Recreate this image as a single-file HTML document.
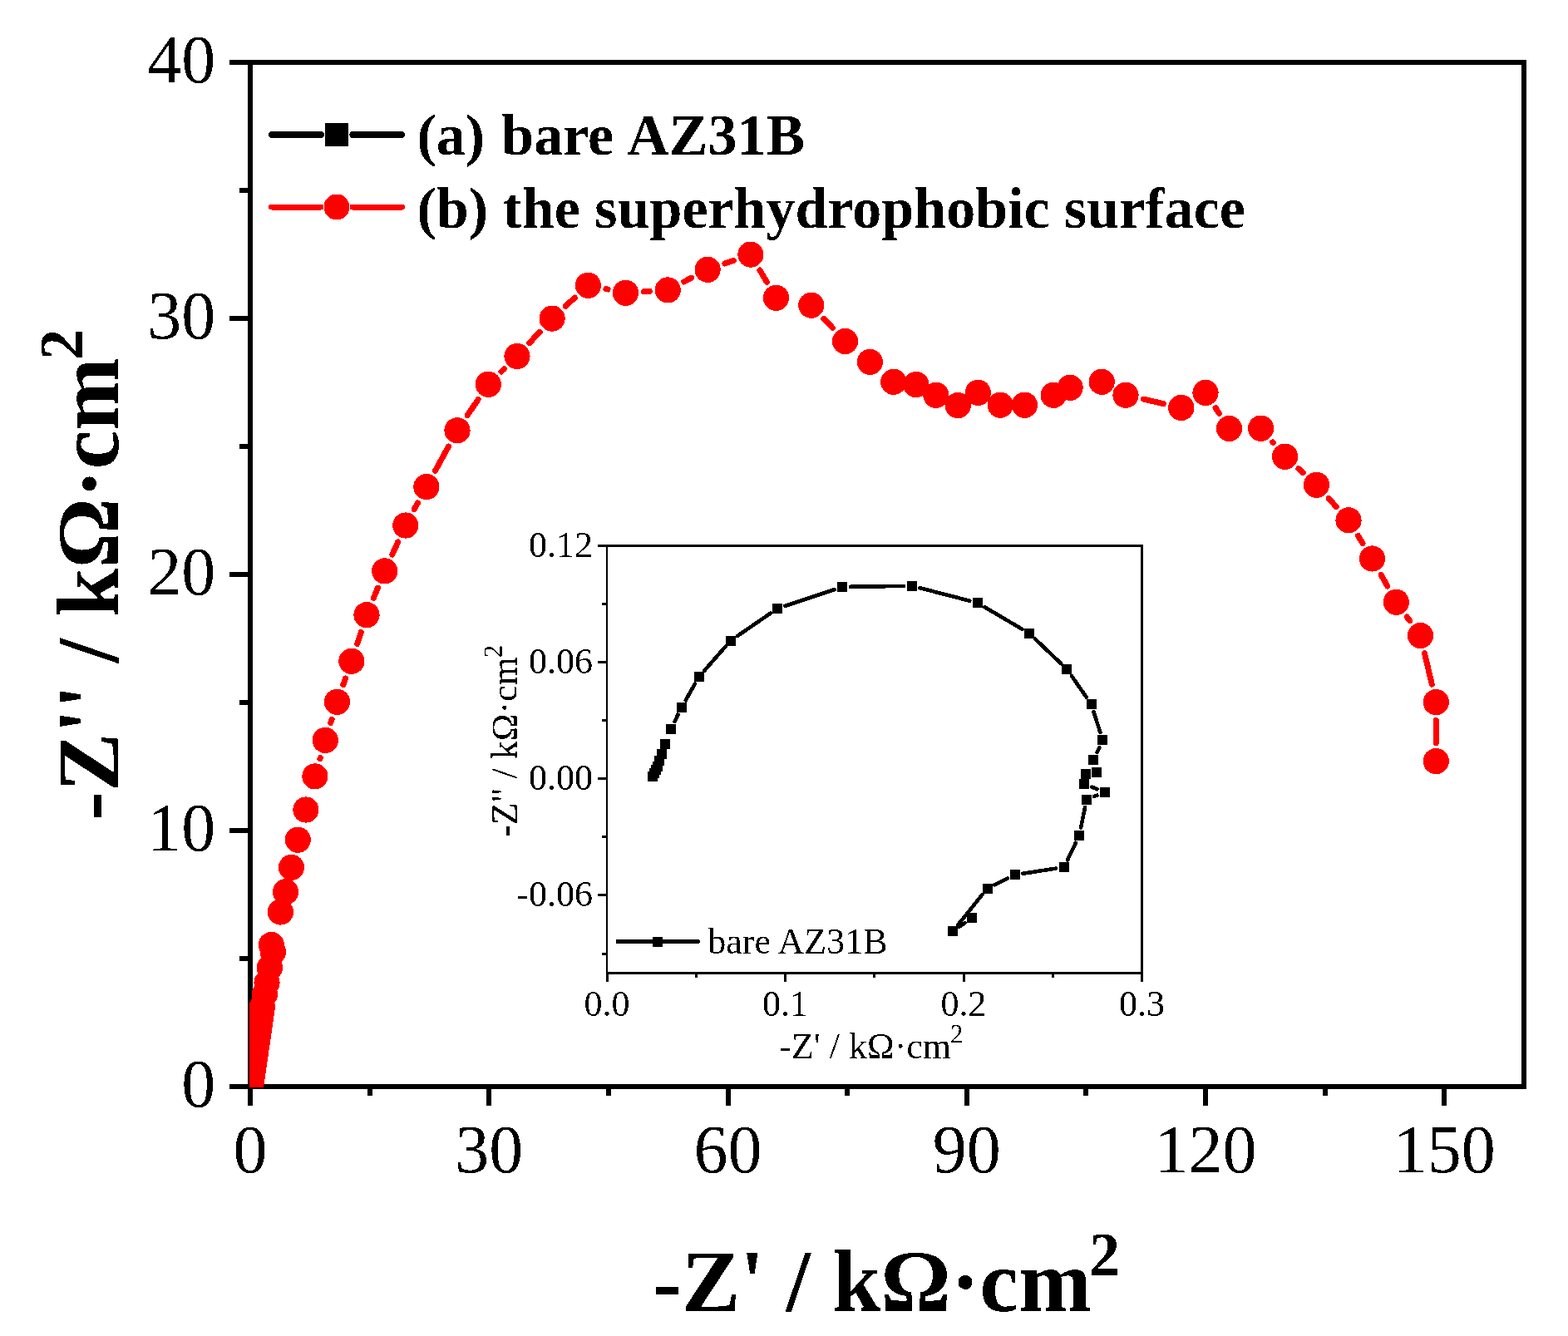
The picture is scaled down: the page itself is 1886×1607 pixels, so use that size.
<!DOCTYPE html><html><head><meta charset="utf-8"><style>html,body{margin:0;padding:0;background:#fff;}svg{display:block;}</style></head><body>
<svg width="1886" height="1607" viewBox="0 0 1886 1607" shape-rendering="crispEdges">
<style>text{filter:url(#bin);}</style>
<rect width="1886" height="1607" fill="#fff"/>
<defs><filter id="bin" x="-5%" y="-20%" width="110%" height="140%" color-interpolation-filters="sRGB"><feComponentTransfer><feFuncA type="discrete" tableValues="0 1"/></feComponentTransfer></filter><clipPath id="pc"><rect x="300" y="75" width="1533" height="1233"/></clipPath><clipPath id="ic"><rect x="730" y="656" width="644" height="514"/></clipPath></defs>
<rect x="301" y="75" width="1532" height="1232" fill="none" stroke="#000" stroke-width="6"/>
<path d="M276 1307.0H301 M276 999.0H301 M276 691.0H301 M276 383.0H301 M276 75.0H301 M288 1153.0H301 M288 845.0H301 M288 537.0H301 M288 229.0H301 M301.0 1307V1330 M588.2 1307V1330 M875.5 1307V1330 M1162.8 1307V1330 M1450.0 1307V1330 M1737.2 1307V1330 M444.6 1307V1318 M731.9 1307V1318 M1019.1 1307V1318 M1306.4 1307V1318 M1593.6 1307V1318" stroke="#000" stroke-width="6" fill="none"/>
<g clip-path="url(#pc)"><path d="M384.9 912.8L385.3 911.5 M397.7 869.5L399.1 865.2 M412.8 823.7L415.6 815.9 M429.7 774.5L434.2 760.5 M449.3 719.4L454.4 707.2 M471.8 667.0L478.7 651.9 M498.2 612.7L502.5 604.9 M523.4 566.4L539.5 537.0 M562.2 499.6L575.1 480.5 M603.0 447.0L606.3 443.8 M636.9 412.4L649.2 399.2 M680.2 368.3L691.3 358.1 M728.9 347.6L731.0 348.0 M774.4 350.8L781.3 350.4 M822.7 338.9L831.6 334.3 M871.8 317.0L882.2 313.4 M914.0 325.0L922.4 339.4 M990.8 383.2L1001.5 394.5 M1375.4 480.1L1399.4 485.6 M1462.1 490.7L1466.4 497.2 M1530.8 531.9L1531.4 532.5 M1561.9 563.8L1567.2 568.7 M1598.2 599.5L1607.3 609.6 M1633.5 644.4L1639.0 653.4 M1661.1 691.2L1668.8 705.1 M1692.2 742.0L1695.7 746.8 M1713.5 785.8L1722.3 823.3 M1727.3 866.5L1727.3 893.7" stroke="#f00" stroke-width="7" stroke-linecap="round" fill="none"/>
<g fill="#f00"><circle cx="300.8" cy="1312.0" r="15.6"/><circle cx="301.2" cy="1308.9" r="15.6"/><circle cx="301.7" cy="1305.9" r="15.6"/><circle cx="302.1" cy="1302.8" r="15.6"/><circle cx="302.6" cy="1299.8" r="15.6"/><circle cx="303.0" cy="1296.7" r="15.6"/><circle cx="303.5" cy="1293.6" r="15.6"/><circle cx="303.9" cy="1290.6" r="15.6"/><circle cx="304.3" cy="1287.5" r="15.6"/><circle cx="304.8" cy="1284.5" r="15.6"/><circle cx="305.2" cy="1281.4" r="15.6"/><circle cx="305.7" cy="1278.3" r="15.6"/><circle cx="306.1" cy="1275.3" r="15.6"/><circle cx="306.6" cy="1272.2" r="15.6"/><circle cx="307.0" cy="1269.2" r="15.6"/><circle cx="307.4" cy="1266.1" r="15.6"/><circle cx="307.9" cy="1263.0" r="15.6"/><circle cx="308.3" cy="1260.0" r="15.6"/><circle cx="308.8" cy="1256.9" r="15.6"/><circle cx="309.2" cy="1253.8" r="15.6"/><circle cx="309.6" cy="1250.8" r="15.6"/><circle cx="310.1" cy="1247.7" r="15.6"/><circle cx="310.5" cy="1244.7" r="15.6"/><circle cx="311.0" cy="1241.6" r="15.6"/><circle cx="311.4" cy="1238.5" r="15.6"/><circle cx="311.9" cy="1235.5" r="15.6"/><circle cx="312.3" cy="1232.4" r="15.6"/><circle cx="312.7" cy="1229.4" r="15.6"/><circle cx="313.2" cy="1226.3" r="15.6"/><circle cx="313.6" cy="1223.2" r="15.6"/><circle cx="314.1" cy="1220.2" r="15.6"/><circle cx="314.5" cy="1217.1" r="15.6"/><circle cx="315.0" cy="1214.1" r="15.6"/><circle cx="315.4" cy="1211.0" r="15.6"/><circle cx="318.4" cy="1196.0" r="15.6"/><circle cx="321.0" cy="1182.0" r="15.6"/><circle cx="324.4" cy="1164.0" r="15.6"/><circle cx="328.4" cy="1145.0" r="15.6"/><circle cx="326.4" cy="1136.5" r="15.6"/><circle cx="337.4" cy="1097.0" r="15.6"/><circle cx="343.5" cy="1072.8" r="15.6"/><circle cx="350.5" cy="1043.4" r="15.6"/><circle cx="358.3" cy="1010.2" r="15.6"/><circle cx="367.9" cy="974.0" r="15.6"/><circle cx="378.9" cy="933.9" r="15.6"/><circle cx="391.3" cy="890.4" r="15.6"/><circle cx="405.5" cy="844.3" r="15.6"/><circle cx="422.9" cy="795.3" r="15.6"/><circle cx="441.0" cy="739.7" r="15.6"/><circle cx="462.7" cy="686.9" r="15.6"/><circle cx="487.8" cy="632.0" r="15.6"/><circle cx="512.9" cy="585.6" r="15.6"/><circle cx="550.0" cy="517.8" r="15.6"/><circle cx="587.3" cy="462.3" r="15.6"/><circle cx="622.0" cy="428.5" r="15.6"/><circle cx="664.1" cy="383.1" r="15.6"/><circle cx="707.4" cy="343.3" r="15.6"/><circle cx="752.5" cy="352.3" r="15.6"/><circle cx="803.2" cy="348.9" r="15.6"/><circle cx="851.1" cy="324.3" r="15.6"/><circle cx="902.9" cy="306.1" r="15.6"/><circle cx="933.5" cy="358.3" r="15.6"/><circle cx="975.8" cy="367.2" r="15.6"/><circle cx="1016.5" cy="410.5" r="15.6"/><circle cx="1046.4" cy="435.4" r="15.6"/><circle cx="1074.8" cy="459.3" r="15.6"/><circle cx="1101.9" cy="462.6" r="15.6"/><circle cx="1125.9" cy="475.3" r="15.6"/><circle cx="1152.2" cy="487.6" r="15.6"/><circle cx="1176.4" cy="472.3" r="15.6"/><circle cx="1203.2" cy="487.2" r="15.6"/><circle cx="1232.4" cy="487.2" r="15.6"/><circle cx="1267.2" cy="475.3" r="15.6"/><circle cx="1287.1" cy="466.3" r="15.6"/><circle cx="1325.2" cy="459.3" r="15.6"/><circle cx="1354.0" cy="475.3" r="15.6"/><circle cx="1420.8" cy="490.4" r="15.6"/><circle cx="1450.0" cy="472.4" r="15.6"/><circle cx="1478.5" cy="515.5" r="15.6"/><circle cx="1516.6" cy="515.2" r="15.6"/><circle cx="1545.6" cy="549.2" r="15.6"/><circle cx="1583.5" cy="583.3" r="15.6"/><circle cx="1622.0" cy="625.8" r="15.6"/><circle cx="1650.5" cy="672.0" r="15.6"/><circle cx="1679.4" cy="724.3" r="15.6"/><circle cx="1708.5" cy="764.5" r="15.6"/><circle cx="1727.3" cy="844.6" r="15.6"/><circle cx="1727.3" cy="915.6" r="15.6"/></g></g>
<g font-family="Liberation Serif, Times New Roman, serif" font-size="82" fill="#000">
<text x="259.2" y="1331.2" text-anchor="end">0</text>
<text x="259.2" y="1023.2" text-anchor="end">10</text>
<text x="259.2" y="715.2" text-anchor="end">20</text>
<text x="259.2" y="407.2" text-anchor="end">30</text>
<text x="259.2" y="99.2" text-anchor="end">40</text>
<text x="301.0" y="1409.5" text-anchor="middle">0</text>
<text x="588.2" y="1409.5" text-anchor="middle">30</text>
<text x="875.5" y="1409.5" text-anchor="middle">60</text>
<text x="1162.8" y="1409.5" text-anchor="middle">90</text>
<text x="1450.0" y="1409.5" text-anchor="middle">120</text>
<text x="1737.2" y="1409.5" text-anchor="middle">150</text>
</g>
<text font-family="Liberation Serif, Times New Roman, serif" font-weight="bold" font-size="105" x="785.2" y="1576.8">-Z' / kΩ·cm<tspan font-size="74" dy="-43" dx="-2.5">2</tspan></text>
<text font-family="Liberation Serif, Times New Roman, serif" font-weight="bold" font-size="105" transform="translate(142.1 986.8) rotate(-90)">-Z'' / kΩ·cm<tspan font-size="74" dy="-43" dx="-2.5">2</tspan></text>
<path d="M327 162H385.8M424.3 162H483" stroke="#000" stroke-width="8" stroke-linecap="round"/>
<rect x="391" y="148" width="28" height="28" fill="#000"/>
<path d="M326.5 249H386M424 249H483.5" stroke="#f00" stroke-width="7" stroke-linecap="round"/>
<circle cx="405" cy="249" r="15.5" fill="#f00"/>
<g font-family="Liberation Serif, Times New Roman, serif" font-weight="bold" font-size="70" fill="#000"><text x="501.5" y="185.7" word-spacing="2.6">(a) bare AZ31B</text><text x="501.5" y="273.8">(b) the superhydrophobic surface</text></g>
<rect x="730" y="656.5" width="643.5" height="514.1" fill="none" stroke="#000" stroke-width="2.8"/>
<path d="M719 656.6H730 M719 796.7H730 M719 936.8H730 M719 1076.9H730 M724 726.6H730 M724 866.8H730 M724 1006.8H730 M724 1147.0H730 M730.0 1170.6V1180.7 M944.5 1170.6V1180.7 M1159.0 1170.6V1180.7 M1373.5 1170.6V1180.7 M837.2 1170.6V1175.6 M1051.8 1170.6V1175.6 M1266.2 1170.6V1175.6" stroke="#000" stroke-width="3" fill="none"/>
<path d="M811.4 868.0L815.5 859.6 M824.7 842.3L836.0 822.5 M847.3 806.6L872.4 777.9 M887.0 765.0L927.0 737.5 M944.4 728.9L1003.7 709.1 M1022.8 705.8L1087.1 704.9 M1106.4 707.2L1166.4 722.7 M1184.3 730.2L1229.6 756.9 M1245.1 768.6L1276.2 798.2 M1288.9 813.0L1306.9 838.9 M1315.5 856.3L1323.4 881.1 M1322.2 899.3L1319.6 905.0 M1313.4 946.7L1319.6 949.2 M1319.5 956.6L1316.1 957.9 M1305.1 971.1L1300.1 995.4 M1293.9 1013.8L1284.1 1034.3 M1270.1 1044.6L1230.3 1050.8 M1211.8 1056.6L1196.4 1064.3 M1181.4 1076.2L1152.0 1112.8 M1153.8 1114.8L1160.7 1110.0" stroke="#000" stroke-width="4.6" stroke-linecap="round" fill="none"/>
<g fill="#000"><rect x="778.8" y="928.0" width="12" height="12"/><rect x="780.5" y="924.0" width="12" height="12"/><rect x="782.5" y="920.0" width="12" height="12"/><rect x="784.5" y="915.5" width="12" height="12"/><rect x="787.0" y="908.9" width="12" height="12"/><rect x="790.0" y="900.9" width="12" height="12"/><rect x="794.0" y="888.9" width="12" height="12"/><rect x="801.0" y="870.8" width="12" height="12"/><rect x="813.9" y="844.8" width="12" height="12"/><rect x="834.8" y="808.0" width="12" height="12"/><rect x="872.9" y="764.5" width="12" height="12"/><rect x="929.1" y="726.0" width="12" height="12"/><rect x="1007.0" y="700.0" width="12" height="12"/><rect x="1090.9" y="698.7" width="12" height="12"/><rect x="1169.9" y="719.2" width="12" height="12"/><rect x="1232.0" y="755.9" width="12" height="12"/><rect x="1277.3" y="798.9" width="12" height="12"/><rect x="1306.5" y="841.0" width="12" height="12"/><rect x="1320.4" y="884.4" width="12" height="12"/><rect x="1309.4" y="907.9" width="12" height="12"/><rect x="1312.5" y="922.9" width="12" height="12"/><rect x="1300.4" y="925.0" width="12" height="12"/><rect x="1298.4" y="936.9" width="12" height="12"/><rect x="1322.6" y="947.0" width="12" height="12"/><rect x="1301.0" y="955.5" width="12" height="12"/><rect x="1292.2" y="999.0" width="12" height="12"/><rect x="1273.8" y="1037.1" width="12" height="12"/><rect x="1214.6" y="1046.3" width="12" height="12"/><rect x="1181.6" y="1062.6" width="12" height="12"/><rect x="1139.8" y="1114.4" width="12" height="12"/><rect x="1162.7" y="1098.4" width="12" height="12"/></g>
<g font-family="Liberation Serif, Times New Roman, serif" font-size="44" fill="#000">
<text x="713" y="669.9" text-anchor="end">0.12</text>
<text x="713" y="810.0" text-anchor="end">0.06</text>
<text x="713" y="950.1" text-anchor="end">0.00</text>
<text x="713" y="1090.2" text-anchor="end">-0.06</text>
<text x="730.0" y="1221.5" text-anchor="middle">0.0</text>
<text x="944.5" y="1221.5" text-anchor="middle">0.1</text>
<text x="1159.0" y="1221.5" text-anchor="middle">0.2</text>
<text x="1373.5" y="1221.5" text-anchor="middle">0.3</text>
</g>
<text font-family="Liberation Serif, Times New Roman, serif" font-size="44" x="937.3" y="1272.8">-Z' / kΩ·cm<tspan font-size="31" dy="-18.5" dx="-1">2</tspan></text>
<text font-family="Liberation Serif, Times New Roman, serif" font-size="44" transform="translate(621.5 1007) rotate(-90)">-Z" / kΩ·cm<tspan font-size="31" dy="-18.5" dx="-1">2</tspan></text>
<path d="M743 1132.6H839.3" stroke="#000" stroke-width="5" stroke-linecap="round"/>
<rect x="785" y="1126.6" width="12" height="12" fill="#000"/>
<text font-family="Liberation Serif, Times New Roman, serif" font-size="44" x="851.3" y="1147">bare AZ31B</text>
</svg></body></html>
